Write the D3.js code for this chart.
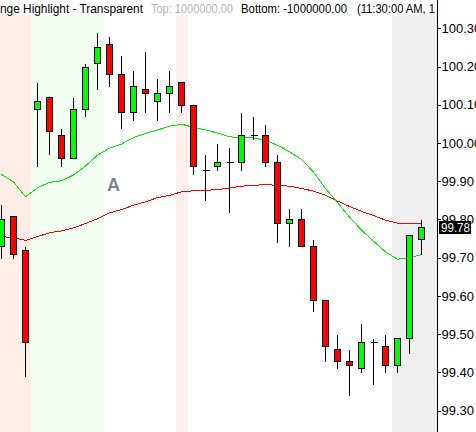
<!DOCTYPE html>
<html>
<head>
<meta charset="utf-8">
<script src="https://cdn.jsdelivr.net/npm/d3@7/dist/d3.min.js"></script>
<style>
  html, body { margin: 0; padding: 0; background: #ffffff; }
  svg { display: block; }
  text { font-family: "Liberation Sans", Arial, sans-serif; }
</style>
</head>
<body>
<svg id="chart" width="476" height="432"></svg>
<script>
// ---- data ----
const opens  = [99.73, 99.81, 99.72, 100.09, 100.12, 100.02, 99.96, 100.09, 100.21, 100.26,
                100.18, 100.08, 100.14, 100.11, 100.13, 100.16, 100.10, 99.93, 99.94, 99.95,
                99.95, 100.02, 100.02, 99.95, 99.79, 99.80, 99.73, 99.59, 99.46, 99.43,
                99.41, 99.48, 99.47, 99.42, 99.49, 99.75];
const highs  = [99.84, 99.81, 99.73, 100.16, 100.12, 100.04, 100.12, 100.21, 100.29, 100.28,
                100.23, 100.19, 100.24, 100.17, 100.19, 100.16, 100.10, 99.97, 100.00, 99.99,
                100.08, 100.07, 100.05, 99.97, 99.83, 99.83, 99.75, 99.59, 99.50, 99.46,
                99.53, 99.49, 99.50, 99.49, 99.76, 99.80];
const lows   = [99.70, 99.70, 99.39, 99.94, 99.97, 99.94, 99.96, 100.07, 100.14, 100.15,
                100.04, 100.06, 100.08, 100.06, 100.08, 100.08, 99.92, 99.85, 99.93, 99.82,
                99.93, 100.01, 99.94, 99.74, 99.73, 99.73, 99.56, 99.43, 99.41, 99.34,
                99.40, 99.37, 99.40, 99.40, 99.45, 99.71];
const closes = [99.80, 99.71, 99.48, 100.11, 100.03, 99.96, 100.09, 100.20, 100.25, 100.18,
                100.08, 100.15, 100.13, 100.13, 100.15, 100.10, 99.94, 99.93, 99.95, 99.95,
                100.02, 100.02, 99.95, 99.79, 99.80, 99.73, 99.59, 99.47, 99.43, 99.42,
                99.48, 99.48, 99.42, 99.49, 99.76, 99.78];
const fastMA = [99.918, 99.898, 99.859, 99.883, 99.897, 99.901, 99.916, 99.940, 99.968, 99.986,
                99.997, 100.014, 100.025, 100.034, 100.044, 100.049, 100.041, 100.034, 100.026, 100.016,
                100.014, 100.013, 100.007, 99.994, 99.977, 99.957, 99.924, 99.881, 99.844, 99.806,
                99.772, 99.743, 99.715, 99.696, 99.699, 99.708];
const slowMA = [99.755, 99.752, 99.745, 99.755, 99.765, 99.770, 99.778, 99.789, 99.802, 99.817,
                99.826, 99.837, 99.846, 99.857, 99.863, 99.872, 99.875, 99.876, 99.878, 99.882,
                99.887, 99.889, 99.891, 99.889, 99.887, 99.881, 99.874, 99.863, 99.848, 99.834,
                99.821, 99.810, 99.798, 99.790, 99.788, 99.788];
// highlighted ranges, in bar index units (bands run between bar midpoints)
const rangeStarts = [-1.5, 2.5, 14.5, 32.5];
const rangeEnds   = [2.5, 8.5, 15.5, 36.5];
const rangeColors = ["#fdeee8", "#f2fff2", "#fff0f0", "#efefef"];
const tickValues  = [99.30, 99.40, 99.50, 99.60, 99.70, 99.80, 99.90, 100.00, 100.10, 100.20, 100.30];
const lastPrice   = 99.78;
const titleParts  = ["nge Highlight - Transparent", "Top: 1000000.00", "Bottom: -1000000.00", "(11:30:00 AM, 1"];
const titleColors = ["#000000", "#b4b4b4", "#000000", "#000000"];
const titleX      = [0, 151, 241, 357];
const titleW      = [143, 82, 106, 78];
const markerLabel = "A";

// ---- layout ----
const W = 476, H = 432, axisX = 437.5, plotTop = 15;
const svg = d3.select("#chart");
const idx = d3.range(opens.length);
const x = d3.scaleLinear().domain([0, 35]).range([1.5, 421.5]);
const y = d3.scaleLinear().domain([99.30, 100.30]).range([410.5, 28.3]);
const bx = (v) => Math.min(437, Math.max(0, Math.round(x(v))));

// range highlight bands
svg.append("g").selectAll("rect").data(rangeStarts).join("rect")
  .attr("x", (d) => bx(d))
  .attr("y", plotTop)
  .attr("width", (d, i) => bx(rangeEnds[i]) - bx(d))
  .attr("height", H - plotTop)
  .attr("fill", (d, i) => rangeColors[i]);

// title
const clip = svg.append("clipPath").attr("id", "tclip");
clip.append("rect").attr("x", 0).attr("y", 0).attr("width", 437).attr("height", 16);
svg.append("g").attr("clip-path", "url(#tclip)").selectAll("text").data(titleParts).join("text")
  .attr("x", (d, i) => titleX[i]).attr("y", 13)
  .attr("font-size", 12).attr("fill", (d, i) => titleColors[i])
  .attr("textLength", (d, i) => titleW[i]).attr("lengthAdjust", "spacingAndGlyphs")
  .text((d) => d);

// marker label
svg.append("text").attr("x", 107).attr("y", 191).attr("font-size", 18).attr("font-weight", "bold")
  .attr("fill", "#7d8594").text(markerLabel);

// moving averages
const line = (arr) => d3.line().x((d, i) => x(i)).y((d) => y(d))(arr);
svg.append("path").attr("d", line(slowMA)).attr("fill", "none").attr("stroke", "#ff0000")
  .attr("stroke-width", 1).attr("shape-rendering", "crispEdges");
svg.append("path").attr("d", line(fastMA)).attr("fill", "none").attr("stroke", "#00ee00")
  .attr("stroke-width", 1).attr("shape-rendering", "crispEdges");

// candles
const px = (i) => Math.floor(x(i)) + 0.5;
const py = (v) => Math.round(y(v)) + 0.5;
const cg = svg.append("g").attr("shape-rendering", "crispEdges");
cg.selectAll("line.wick").data(idx).join("line").attr("class", "wick")
  .attr("x1", px).attr("x2", px)
  .attr("y1", (i) => py(highs[i])).attr("y2", (i) => py(lows[i]))
  .attr("stroke", "#000").attr("stroke-width", 1);
cg.selectAll("rect.body").data(idx.filter((i) => opens[i] !== closes[i])).join("rect").attr("class", "body")
  .attr("x", (i) => px(i) - 3)
  .attr("y", (i) => py(Math.max(opens[i], closes[i])))
  .attr("width", 6)
  .attr("height", (i) => Math.max(1, py(Math.min(opens[i], closes[i])) - py(Math.max(opens[i], closes[i]))))
  .attr("fill", (i) => closes[i] > opens[i] ? "#00ff00" : "#ff0000")
  .attr("stroke", "#000").attr("stroke-width", 1);
cg.selectAll("line.doji").data(idx.filter((i) => opens[i] === closes[i])).join("line").attr("class", "doji")
  .attr("x1", (i) => px(i) - 3).attr("x2", (i) => px(i) + 4)
  .attr("y1", (i) => py(opens[i])).attr("y2", (i) => py(opens[i]))
  .attr("stroke", "#000").attr("stroke-width", 1);

// right axis
svg.append("rect").attr("x", axisX).attr("y", 0).attr("width", W - axisX).attr("height", H).attr("fill", "#fff");
const axis = d3.axisRight(y).tickValues(tickValues).tickSize(3).tickPadding(1).tickFormat(d3.format(".2f"));
const ag = svg.append("g").attr("transform", `translate(${axisX},0)`).call(axis);
ag.select(".domain").remove();
ag.selectAll(".tick line").attr("stroke", "#000").attr("shape-rendering", "crispEdges");
ag.selectAll(".tick text").attr("font-size", 13).attr("fill", "#000")
  .attr("font-family", "'Liberation Sans', Arial, sans-serif");
svg.append("line").attr("x1", axisX).attr("x2", axisX).attr("y1", 0).attr("y2", H)
  .attr("stroke", "#000").attr("stroke-width", 1);

// last price marker
svg.append("rect").attr("x", 439).attr("y", y(lastPrice) - 6).attr("width", 32).attr("height", 13).attr("fill", "#000");
svg.append("text").attr("x", 441).attr("y", y(lastPrice) + 5).attr("font-size", 12.5).attr("fill", "#fff")
  .attr("textLength", 29).attr("lengthAdjust", "spacingAndGlyphs")
  .text(d3.format(".2f")(lastPrice));
</script>
</body>
</html>
